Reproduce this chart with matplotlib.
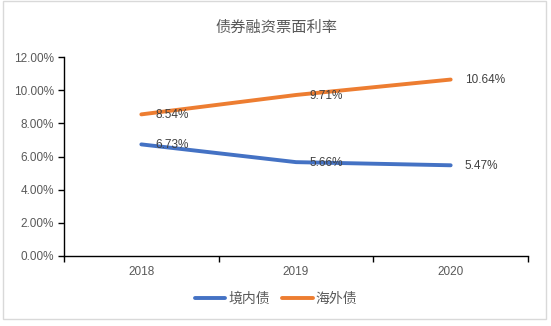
import matplotlib
matplotlib.use("Agg")
import matplotlib.pyplot as plt
from matplotlib.patches import Rectangle
from matplotlib.ticker import FuncFormatter

plt.rcParams['font.family'] = ['Liberation Sans', 'Noto Sans CJK SC', 'DejaVu Sans']

years = ['2018', '2019', '2020']
domestic = [6.73, 5.66, 5.47]
overseas = [8.54, 9.71, 10.64]
series_names = ['境内债', '海外债']
title = '债券融资票面利率'

fig = plt.figure(figsize=(5.51, 3.26), dpi=100)
fig.patches.append(Rectangle((3/551, 7/326), 543/551, 318/326, transform=fig.transFigure,
                             fill=False, edgecolor='#d9d9d9', linewidth=1))
ax = fig.add_axes([64/551, 1 - 256/326, (528-64)/551, (256-57)/326])

x = list(range(len(years)))
blue = '#4472c4'
orange = '#ed7d31'
ax.plot(x, domestic, color=blue, linewidth=2.8, solid_capstyle='round', label=series_names[0])
ax.plot(x, overseas, color=orange, linewidth=2.8, solid_capstyle='round', label=series_names[1])

for xi, v in zip(x, domestic):
    ax.annotate(f'{v:.2f}%', (xi, v), xytext=(10, -0.5), textcoords='offset points',
                va='center', ha='left', fontsize=8.5, color='#404040')
for xi, v in zip(x, overseas):
    ax.annotate(f'{v:.2f}%', (xi, v), xytext=(10, -0.5), textcoords='offset points',
                va='center', ha='left', fontsize=8.5, color='#404040')

ax.set_xlim(-0.5, 2.5)
ax.set_ylim(0, 12)
ax.set_yticks([0, 2, 4, 6, 8, 10, 12])
ax.yaxis.set_major_formatter(FuncFormatter(lambda v, p: f'{v:.2f}%'))
ax.set_xticks(x)
ax.set_xticklabels(years)
ax.set_xticks([-0.5, 0.5, 1.5, 2.5], minor=True)
ax.tick_params(axis='x', which='major', length=0, pad=7, labelsize=8.5, labelcolor='#595959')
ax.tick_params(axis='x', which='minor', length=4, width=1, color='black')
ax.tick_params(axis='y', length=4, width=1, color='black', labelsize=8.5, labelcolor='#595959', pad=3)
for s in ['top', 'right']:
    ax.spines[s].set_visible(False)
for s in ['left', 'bottom']:
    ax.spines[s].set_color('black')
    ax.spines[s].set_linewidth(1)

fig.text(276/551, 1 - 28/326, title, ha='center', va='center', fontsize=11, color='#595959')

leg = fig.legend(loc='center', bbox_to_anchor=(276/551, 1 - 299/326), ncol=2, frameon=False,
                 fontsize=10, handlelength=2.2, handletextpad=0.2, columnspacing=0.9)
for t in leg.get_texts():
    t.set_color('#595959')

fig.savefig('out.png', dpi=100)
